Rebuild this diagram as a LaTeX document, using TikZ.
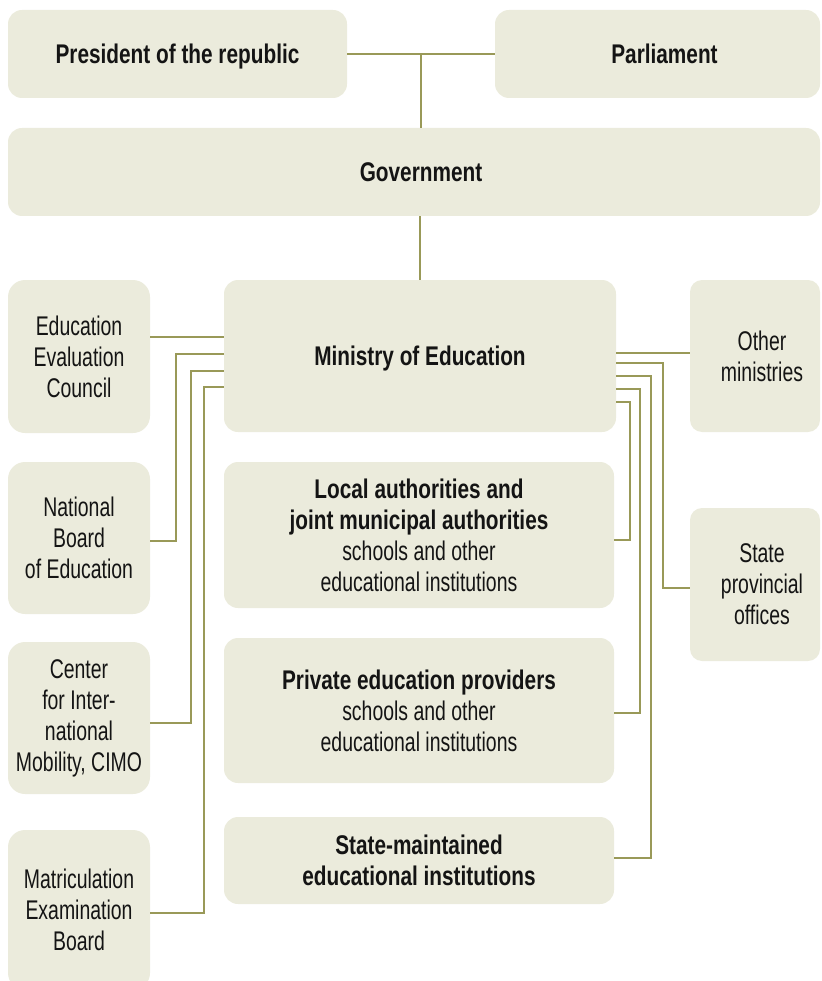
\documentclass[tikz,border=0pt]{standalone}
\usepackage{fontspec}
\newfontfamily\rg{Liberation Sans}[FakeStretch=0.72]
\newfontfamily\bd{Liberation Sans}[FakeStretch=0.77]
\newcommand\hb[1]{{\bd\bfseries #1}}
\usetikzlibrary{calc}
\definecolor{boxc}{HTML}{EBEBDC}
\definecolor{linkc}{HTML}{999958}
\definecolor{ink}{HTML}{141414}
\tikzset{
  box/.style={fill=boxc, draw=none, rounded corners=14pt, inner sep=0pt, align=center,
    font=\rg\fontsize{27}{31}\selectfont, text=ink},
  oneline/.style={text depth=0pt},
  link/.style={draw=linkc, line width=1.8pt}
}
\begin{document}
\begin{tikzpicture}[x=1pt,y=-1pt]
\useasboundingbox (0,0) rectangle (821,981);
% top row
\node[box, oneline, minimum width=339pt, minimum height=88pt] (pres) at (177.5,54) {\hb{President of the republic}};
\node[box, oneline, minimum width=325pt, minimum height=88pt] (parl) at (657.5,54) {\hspace*{14pt}\hb{Parliament}};
\node[box, oneline, minimum width=812pt, minimum height=88pt] (gov) at (414,172) {\hspace*{14pt}\hb{Government}};
% ministry
\node[box, oneline, minimum width=392pt, minimum height=152pt] (min) at (420,356) {\hb{Ministry of Education}};
% left column
\node[box, rounded corners=17pt, minimum width=142pt, minimum height=153pt] (eec) at (79,356.5) {Education\\Evaluation\\Council};
\node[box, rounded corners=17pt, minimum width=142pt, minimum height=152pt] (nbe) at (79,538) {National\\Board\\of Education};
\node[box, rounded corners=17pt, minimum width=142pt, minimum height=152pt] (cimo) at (79,718) {Center\\for Inter-\\national\\Mobility, CIMO};
\node[box, rounded corners=17pt, minimum width=142pt, minimum height=160pt] (meb) at (79,910) {Matriculation\\Examination\\Board};
% centre column
\node[box, minimum width=390pt, minimum height=146pt] (loc) at (419,535) {\hb{Local authorities and}\\\hb{joint municipal authorities}\\schools and other\\educational institutions};
\node[box, minimum width=390pt, minimum height=145pt] (priv) at (419,710.5) {\hb{Private education providers}\\schools and other\\educational institutions};
\node[box, minimum width=390pt, minimum height=87pt] (stm) at (419,860.5) {\hb{State-maintained}\\\hb{educational institutions}};
% right column
\node[box, rounded corners=12pt, minimum width=130pt, minimum height=152pt] (oth) at (755,356) {\hspace*{14pt}Other\\\hspace*{14pt}ministries};
\node[box, rounded corners=12pt, minimum width=130pt, minimum height=153pt] (spo) at (755,584.5) {\hspace*{14pt}State\\\hspace*{14pt}provincial\\\hspace*{14pt}offices};
% top connectors
\draw[link] (pres.east) -- (parl.west);
\coordinate (j) at ($(pres.east)!0.5!(parl.west)$);
\draw[link] (j) -- (j |- gov.north);
\draw[link] (min.north) -- (min.north |- gov.south);
% left connectors
\draw[link] ([yshift=19pt]min.west) -- ([yshift=19pt]min.west -| eec.east);
\draw[link] ([yshift=2pt]min.west) -| ([xshift=26pt,yshift=-3pt]nbe.east) -- ([yshift=-3pt]nbe.east);
\draw[link] ([yshift=-15pt]min.west) -| ([xshift=41pt,yshift=-5pt]cimo.east) -- ([yshift=-5pt]cimo.east);
\draw[link] ([yshift=-31pt]min.west) -| ([xshift=54pt,yshift=-3pt]meb.east) -- ([yshift=-3pt]meb.east);
% right connectors
\draw[link] ([yshift=3pt]min.east) -- ([yshift=3pt]min.east -| oth.west);
\draw[link] ([yshift=-7pt]min.east) -| ([xshift=-27pt,yshift=-3.5pt]spo.west) -- ([yshift=-3.5pt]spo.west);
\draw[link] ([yshift=-20pt]min.east) -| ([xshift=37pt,yshift=2.5pt]stm.east) -- ([yshift=2.5pt]stm.east);
\draw[link] ([yshift=-33pt]min.east) -| ([xshift=26pt,yshift=-2.5pt]priv.east) -- ([yshift=-2.5pt]priv.east);
\draw[link] ([yshift=-46pt]min.east) -| ([xshift=16pt,yshift=-5pt]loc.east) -- ([yshift=-5pt]loc.east);
\end{tikzpicture}
\end{document}
